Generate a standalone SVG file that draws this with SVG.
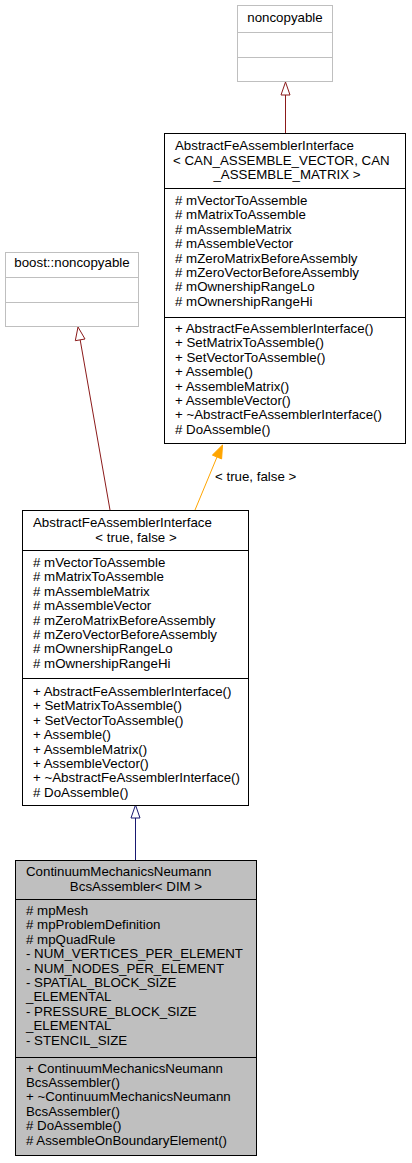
<svg xmlns="http://www.w3.org/2000/svg" width="412" height="1163" viewBox="0 0 412 1163">
<style>
text{font-family:"Liberation Sans",Arial,sans-serif;font-size:13.3px;fill:#000}
.c{text-anchor:middle}
.box{fill:#fff;stroke:#000;stroke-width:1}
.gbox{fill:#fff;stroke:#bfbfbf;stroke-width:1}
.sel{fill:#bfbfbf;stroke:#000;stroke-width:1}
.ln{stroke:#000;stroke-width:1}
.gln{stroke:#bfbfbf;stroke-width:1}
.red{stroke:#8b1a1a;fill:none;stroke-width:1}
.blue{stroke:#191970;fill:none;stroke-width:1}
.org{stroke:#ffa500;fill:none;stroke-width:1}
</style>
<g id="connectors">
  <line class="red" x1="285.5" y1="95" x2="285.5" y2="133"/>
  <polygon class="red" points="285.5,82 290,95 281,95" style="fill:#fff"/>
  <line class="red" x1="80.2" y1="340" x2="110" y2="510"/>
  <polygon class="red" points="78,327 85,339 75.3,340.7" style="fill:#fff"/>
  <line class="org" x1="217" y1="457" x2="195" y2="510"/>
  <polygon points="222.5,445 221.6,458.9 212.4,455.1" fill="#ffa500" stroke="#ffa500"/>
  <text x="215" y="481">&lt; true, false &gt;</text>
  <line class="blue" x1="135.5" y1="818" x2="135.5" y2="860"/>
  <polygon class="blue" points="135.5,805 140,818 131,818" style="fill:#fff"/>
</g>
<g id="noncopyable">
  <rect class="gbox" x="237.5" y="5.5" width="95" height="76"/>
  <line class="gln" x1="237.5" y1="32.5" x2="332.5" y2="32.5"/>
  <line class="gln" x1="237.5" y1="57.5" x2="332.5" y2="57.5"/>
  <text class="c" x="285" y="22">noncopyable</text>
</g>
<g id="boost_noncopyable">
  <rect class="gbox" x="5.5" y="252.5" width="133" height="74"/>
  <line class="gln" x1="5.5" y1="277.5" x2="138.5" y2="277.5"/>
  <line class="gln" x1="5.5" y1="302.5" x2="138.5" y2="302.5"/>
  <text class="c" x="72" y="267">boost::noncopyable</text>
</g>
<g id="AbstractFeAssemblerInterface_template">
  <rect class="box" x="164.5" y="133.5" width="241" height="310"/>
  <line class="ln" x1="164.5" y1="188.5" x2="405.5" y2="188.5"/>
  <line class="ln" x1="164.5" y1="317.5" x2="405.5" y2="317.5"/>
  <text x="175" y="150">AbstractFeAssemblerInterface</text>
  <text x="173" y="164.5">&lt; CAN_ASSEMBLE_VECTOR, CAN</text>
  <text class="c" x="287" y="179">_ASSEMBLE_MATRIX &gt;</text>
  <text x="175" y="205">
    <tspan x="175" y="205"># mVectorToAssemble</tspan>
    <tspan x="175" y="219.4"># mMatrixToAssemble</tspan>
    <tspan x="175" y="233.8"># mAssembleMatrix</tspan>
    <tspan x="175" y="248.2"># mAssembleVector</tspan>
    <tspan x="175" y="262.6"># mZeroMatrixBeforeAssembly</tspan>
    <tspan x="175" y="277"># mZeroVectorBeforeAssembly</tspan>
    <tspan x="175" y="291.4"># mOwnershipRangeLo</tspan>
    <tspan x="175" y="305.8"># mOwnershipRangeHi</tspan>
  </text>
  <text x="175" y="333">
    <tspan x="175" y="333">+ AbstractFeAssemblerInterface()</tspan>
    <tspan x="175" y="347.4">+ SetMatrixToAssemble()</tspan>
    <tspan x="175" y="361.8">+ SetVectorToAssemble()</tspan>
    <tspan x="175" y="376.2">+ Assemble()</tspan>
    <tspan x="175" y="390.6">+ AssembleMatrix()</tspan>
    <tspan x="175" y="405">+ AssembleVector()</tspan>
    <tspan x="175" y="419.4">+ ~AbstractFeAssemblerInterface()</tspan>
    <tspan x="175" y="433.8"># DoAssemble()</tspan>
  </text>
</g>
<g id="AbstractFeAssemblerInterface_true_false">
  <rect class="box" x="22.5" y="510.5" width="226" height="295"/>
  <line class="ln" x1="22.5" y1="550.5" x2="248.5" y2="550.5"/>
  <line class="ln" x1="22.5" y1="678.5" x2="248.5" y2="678.5"/>
  <text x="33" y="527">AbstractFeAssemblerInterface</text>
  <text class="c" x="136" y="541.5">&lt; true, false &gt;</text>
  <text x="33" y="567">
    <tspan x="33" y="567"># mVectorToAssemble</tspan>
    <tspan x="33" y="581.4"># mMatrixToAssemble</tspan>
    <tspan x="33" y="595.8"># mAssembleMatrix</tspan>
    <tspan x="33" y="610.2"># mAssembleVector</tspan>
    <tspan x="33" y="624.6"># mZeroMatrixBeforeAssembly</tspan>
    <tspan x="33" y="639"># mZeroVectorBeforeAssembly</tspan>
    <tspan x="33" y="653.4"># mOwnershipRangeLo</tspan>
    <tspan x="33" y="667.8"># mOwnershipRangeHi</tspan>
  </text>
  <text x="33" y="696">
    <tspan x="33" y="696">+ AbstractFeAssemblerInterface()</tspan>
    <tspan x="33" y="710.4">+ SetMatrixToAssemble()</tspan>
    <tspan x="33" y="724.8">+ SetVectorToAssemble()</tspan>
    <tspan x="33" y="739.2">+ Assemble()</tspan>
    <tspan x="33" y="753.6">+ AssembleMatrix()</tspan>
    <tspan x="33" y="768">+ AssembleVector()</tspan>
    <tspan x="33" y="782.4">+ ~AbstractFeAssemblerInterface()</tspan>
    <tspan x="33" y="796.8"># DoAssemble()</tspan>
  </text>
</g>
<g id="ContinuumMechanicsNeumannBcsAssembler">
  <rect class="sel" x="15.5" y="860.5" width="241" height="295"/>
  <line class="ln" x1="15.5" y1="899.5" x2="256.5" y2="899.5"/>
  <line class="ln" x1="15.5" y1="1057.5" x2="256.5" y2="1057.5"/>
  <text x="26" y="876">ContinuumMechanicsNeumann</text>
  <text class="c" x="136" y="891">BcsAssembler&lt; DIM &gt;</text>
  <text x="26" y="915">
    <tspan x="26" y="915"># mpMesh</tspan>
    <tspan x="26" y="929.4"># mpProblemDefinition</tspan>
    <tspan x="26" y="943.8"># mpQuadRule</tspan>
    <tspan x="26" y="958.2">- NUM_VERTICES_PER_ELEMENT</tspan>
    <tspan x="26" y="972.6">- NUM_NODES_PER_ELEMENT</tspan>
    <tspan x="26" y="987">- SPATIAL_BLOCK_SIZE</tspan>
    <tspan x="26" y="1001.4">_ELEMENTAL</tspan>
    <tspan x="26" y="1015.8">- PRESSURE_BLOCK_SIZE</tspan>
    <tspan x="26" y="1030.2">_ELEMENTAL</tspan>
    <tspan x="26" y="1044.6">- STENCIL_SIZE</tspan>
  </text>
  <text x="26" y="1072.5">
    <tspan x="26" y="1072.5">+ ContinuumMechanicsNeumann</tspan>
    <tspan x="26" y="1086.9">BcsAssembler()</tspan>
    <tspan x="26" y="1101.3">+ ~ContinuumMechanicsNeumann</tspan>
    <tspan x="26" y="1115.7">BcsAssembler()</tspan>
    <tspan x="26" y="1130.1"># DoAssemble()</tspan>
    <tspan x="26" y="1144.5"># AssembleOnBoundaryElement()</tspan>
  </text>
</g>
</svg>
